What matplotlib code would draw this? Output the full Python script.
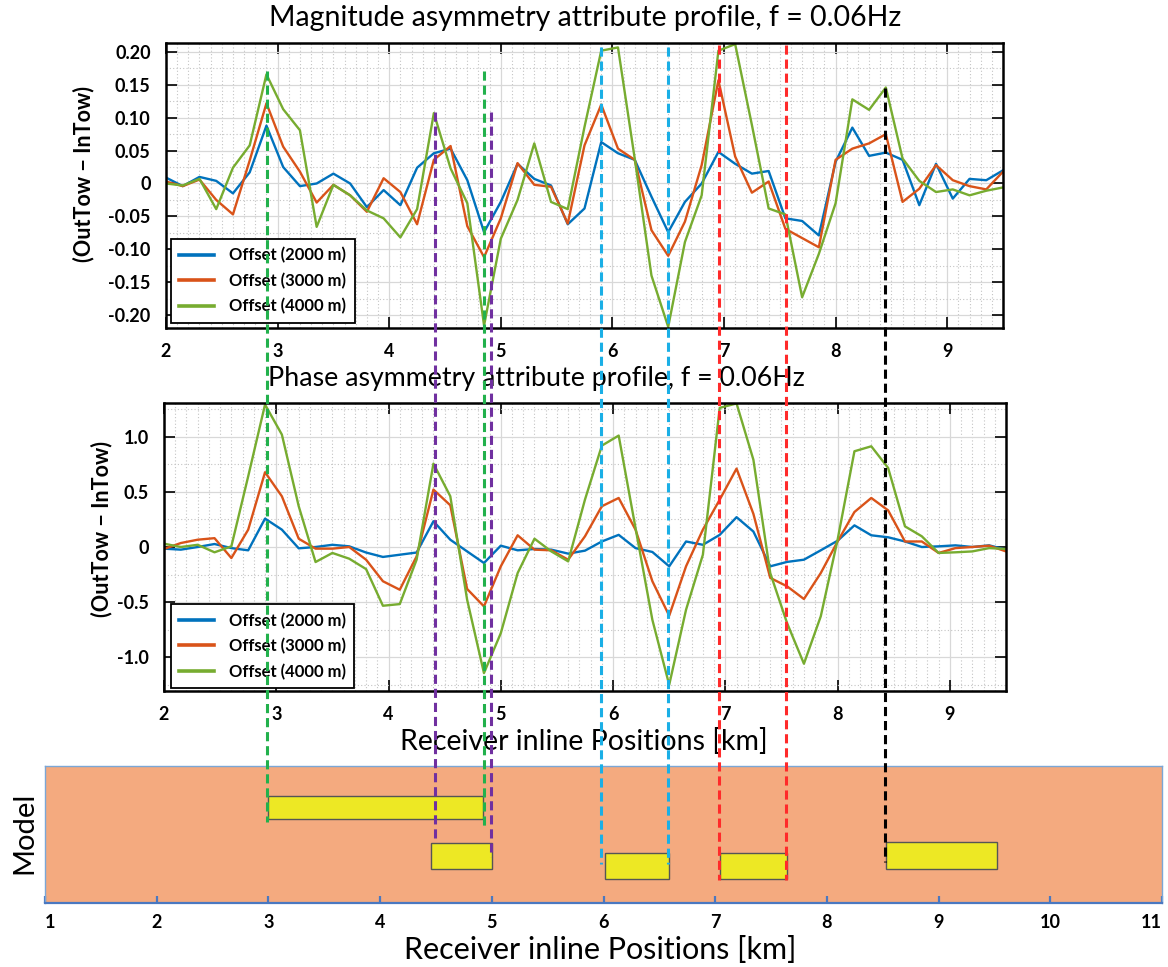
import numpy as np
import matplotlib
matplotlib.use("Agg")
import matplotlib.pyplot as plt
from matplotlib import transforms
from matplotlib.lines import Line2D
from matplotlib.patches import Rectangle
from matplotlib.ticker import MultipleLocator

plt.rcParams["font.family"] = ["Lato", "DejaVu Sans"]

# =========================
# DATA
# =========================
# receiver inline positions (km), one every 150 m
POSITIONS_KM = [2.00, 2.15, 2.30, 2.45, 2.60, 2.75, 2.90, 3.05, 3.20, 3.35,
                3.50, 3.65, 3.80, 3.95, 4.10, 4.25, 4.40, 4.55, 4.70, 4.85,
                5.00, 5.15, 5.30, 5.45, 5.60, 5.75, 5.90, 6.05, 6.20, 6.35,
                6.50, 6.65, 6.80, 6.95, 7.10, 7.25, 7.40, 7.55, 7.70, 7.85,
                8.00, 8.15, 8.30, 8.45, 8.60, 8.75, 8.90, 9.05, 9.20, 9.35,
                9.50]

# magnitude asymmetry (OutTow - InTow)
MAG_2000 = [0.009, -0.004, 0.010, 0.004, -0.015, 0.017, 0.088, 0.025, -0.004, 0.000,
            0.015, 0.000, -0.036, -0.010, -0.033, 0.024, 0.046, 0.053, 0.005, -0.074,
            -0.028, 0.030, 0.007, -0.003, -0.062, -0.038, 0.063, 0.046, 0.036, -0.020,
            -0.074, -0.028, 0.000, 0.048, 0.030, 0.015, 0.019, -0.053, -0.057, -0.079,
            0.033, 0.085, 0.042, 0.047, 0.036, -0.033, 0.030, -0.023, 0.007, 0.005,
            0.020]
MAG_3000 = [0.003, -0.004, 0.006, -0.025, -0.047, 0.035, 0.122, 0.056, 0.018, -0.029,
            -0.002, -0.018, -0.043, 0.008, -0.013, -0.062, 0.036, 0.057, -0.065, -0.112,
            -0.053, 0.031, -0.002, -0.005, -0.061, 0.058, 0.120, 0.053, 0.036, -0.071,
            -0.110, -0.058, 0.028, 0.157, 0.041, -0.014, 0.003, -0.069, -0.083, -0.097,
            0.036, 0.053, 0.061, 0.075, -0.028, -0.008, 0.028, 0.005, -0.004, -0.009,
            0.018]
MAG_4000 = [0.000, -0.003, 0.007, -0.039, 0.024, 0.058, 0.166, 0.113, 0.081, -0.066,
            -0.002, -0.018, -0.041, -0.053, -0.082, -0.039, 0.107, 0.023, -0.030, -0.216,
            -0.084, -0.025, 0.061, -0.028, -0.039, 0.086, 0.202, 0.207, 0.038, -0.140,
            -0.218, -0.089, -0.018, 0.202, 0.212, 0.089, -0.038, -0.047, -0.173, -0.107,
            -0.030, 0.128, 0.112, 0.146, 0.038, 0.004, -0.013, -0.009, -0.018, -0.011,
            -0.006]

# phase asymmetry (OutTow - InTow)
PHASE_2000 = [-0.015, -0.024, 0.000, 0.027, -0.010, -0.030, 0.257, 0.157, -0.012, 0.000,
              0.020, 0.006, -0.050, -0.090, -0.070, -0.050, 0.233, 0.066, -0.040, -0.145,
              0.012, -0.030, -0.018, -0.024, -0.060, -0.033, 0.050, 0.110, -0.010, -0.045,
              -0.175, 0.050, 0.020, 0.110, 0.270, 0.140, -0.175, -0.135, -0.115, -0.030,
              0.057, 0.196, 0.106, 0.088, 0.050, 0.000, 0.006, 0.015, 0.000, 0.015,
              -0.024]
PHASE_3000 = [-0.018, 0.036, 0.066, 0.080, -0.100, 0.157, 0.677, 0.459, 0.075, -0.015,
              -0.015, 0.000, -0.115, -0.310, -0.387, -0.085, 0.520, 0.378, -0.380, -0.538,
              -0.175, 0.106, -0.024, -0.030, -0.115, 0.097, 0.369, 0.444, 0.157, -0.310,
              -0.622, -0.175, 0.157, 0.429, 0.710, 0.300, -0.280, -0.356, -0.471, -0.236,
              0.050, 0.317, 0.444, 0.332, 0.050, 0.050, -0.054, -0.010, 0.000, 0.012,
              -0.040]
PHASE_4000 = [0.030, 0.000, 0.020, -0.048, 0.006, 0.640, 1.290, 1.018, 0.369, -0.136,
              -0.054, -0.106, -0.200, -0.532, -0.517, -0.115, 0.755, 0.460, -0.477, -1.142,
              -0.780, -0.236, 0.075, -0.040, -0.130, 0.430, 0.918, 1.009, 0.172, -0.659,
              -1.248, -0.568, -0.070, 1.260, 1.300, 0.790, -0.236, -0.689, -1.057, -0.628,
              0.066, 0.867, 0.912, 0.716, 0.187, 0.097, -0.054, -0.048, -0.040, -0.010,
              -0.018]

OFFSET_LABELS = ["Offset (2000 m)", "Offset (3000 m)", "Offset (4000 m)"]
OFFSET_COLORS = ["#0072BD", "#D95319", "#77AC30"]

MAG_YTICKS = [0.20, 0.15, 0.10, 0.05, 0.0, -0.05, -0.10, -0.15, -0.20]
MAG_YTICK_LABELS = ["0.20", "0.15", "0.10", "0.05", "0", "-0.05", "-0.10", "-0.15", "-0.20"]
PHASE_YTICKS = [1.0, 0.5, 0.0, -0.5, -1.0]
PHASE_YTICK_LABELS = ["1.0", "0.5", "0", "-0.5", "-1.0"]
PROFILE_XTICKS = [2, 3, 4, 5, 6, 7, 8, 9]
MODEL_XTICKS = [1, 2, 3, 4, 5, 6, 7, 8, 9, 10, 11]

# resistive bodies in the model (km, relative depth 0 = top of panel)
BODY_LEFT_KM = [3.00, 4.46, 6.01, 7.04, 8.53]
BODY_RIGHT_KM = [4.92, 5.00, 6.59, 7.64, 9.52]
BODY_TOP = [0.221, 0.565, 0.638, 0.638, 0.558]
BODY_BASE = [0.390, 0.755, 0.825, 0.825, 0.755]

# body edges picked on the profiles (km)
EDGE_KM = [2.99, 4.93, 4.49, 4.99, 5.98, 6.58, 7.03, 7.63, 8.52]
EDGE_COLORS = ["#22B14C", "#22B14C", "#7030A0", "#7030A0", "#1AAFE6", "#1AAFE6",
               "#FF2A2A", "#FF2A2A", "black"]

# =========================
# LAYOUT (pixels of a 1168 x 967 canvas)
# =========================
W, H = 1168, 967


def box(x0, y0, x1, y1):
    return [x0 / W, 1 - y1 / H, (x1 - x0) / W, (y1 - y0) / H]


fig = plt.figure(figsize=(W / 100, H / 100), dpi=100)
ax_mag = fig.add_axes(box(166, 43, 1003, 328))
ax_pha = fig.add_axes(box(164, 403, 1006, 691))
ax_mod = fig.add_axes(box(45, 766, 1162, 903))


def style_profile(ax, yticks, ylabels, ylim, yminor, legend_box, ylab_xy):
    ax.set_xlim(2, 9.5)
    ax.set_ylim(*ylim)
    ax.set_xticks(PROFILE_XTICKS)
    ax.set_xticklabels([str(t) for t in PROFILE_XTICKS], fontweight="bold", fontsize=13)
    ax.set_yticks(yticks)
    ax.set_yticklabels(ylabels, fontweight="bold", fontsize=13)
    ax.xaxis.set_minor_locator(MultipleLocator(0.1))
    ax.yaxis.set_minor_locator(MultipleLocator(yminor))
    ax.grid(True, which="major", color="#d8d8d8", lw=0.9, ls="-")
    ax.grid(True, which="minor", color="#c4c4c4", lw=0.8, ls=(0, (1, 2)))
    ax.set_axisbelow(True)
    ax.tick_params(which="major", direction="in", length=8, width=1.2,
                   top=True, right=True, pad=11)
    ax.tick_params(which="minor", length=0)
    for sp in ax.spines.values():
        sp.set_linewidth(1.8)
    ax.set_ylabel("(OutTow \u2212 InTow)", fontweight="bold", fontsize=15.5)
    ax.yaxis.set_label_coords(*ylab_xy)
    leg = ax.legend(loc="lower left", bbox_to_anchor=legend_box,
                    prop={"weight": "bold", "size": 12}, fancybox=False,
                    framealpha=1, edgecolor="black", handlelength=2.1,
                    handletextpad=0.9, labelspacing=0.55, borderpad=0.5,
                    borderaxespad=0)
    leg.get_frame().set_linewidth(1.3)
    for h in leg.get_lines():
        h.set_linewidth(2.6)


for ax, series in [(ax_mag, [MAG_2000, MAG_3000, MAG_4000]),
                   (ax_pha, [PHASE_2000, PHASE_3000, PHASE_4000])]:
    for vals, lab, col in zip(series, OFFSET_LABELS, OFFSET_COLORS):
        ax.plot(POSITIONS_KM, vals, color=col, lw=1.7, label=lab)

style_profile(ax_mag, MAG_YTICKS, MAG_YTICK_LABELS, (-0.2198, 0.2137), 0.025,
              (0.006, 0.0175), (-0.086, 0.54))
style_profile(ax_pha, PHASE_YTICKS, PHASE_YTICK_LABELS, (-1.304, 1.304), 0.25,
              (0.008, 0.01), (-0.061, 0.5625))

fig.text(585 / W, 1 - 18 / H, "Magnitude asymmetry attribute profile, f = 0.06Hz",
         ha="center", va="center", fontsize=20.5)
fig.text(536 / W, 1 - 378 / H, "Phase asymmetry attribute profile, f = 0.06Hz",
         ha="center", va="center", fontsize=19.3)
fig.text(584 / W, 1 - 742 / H, "Receiver inline Positions [km]",
         ha="center", va="center", fontsize=20.5)

# =========================
# MODEL PANEL
# =========================
ax_mod.set_xlim(1, 11)
ax_mod.set_ylim(1, 0)
ax_mod.set_facecolor("#F4AA7F")
for name, sp in ax_mod.spines.items():
    sp.set_color("#7BA7D6")
    sp.set_linewidth(1.0)
ax_mod.spines["bottom"].set_color("#4A78C0")
ax_mod.spines["bottom"].set_linewidth(1.6)
ax_mod.set_yticks([])
ax_mod.set_xticks(MODEL_XTICKS)
ax_mod.set_xticklabels([str(t) for t in MODEL_XTICKS], fontweight="bold", fontsize=13)
ax_mod.tick_params(axis="x", direction="in", length=5, width=1.6, color="#4A78C0", pad=8)
tick_labels = ax_mod.get_xticklabels()
tick_labels[0].set_ha("left")
tick_labels[-1].set_ha("right")
for l, r, t, b in zip(BODY_LEFT_KM, BODY_RIGHT_KM, BODY_TOP, BODY_BASE):
    ax_mod.add_patch(Rectangle((l, t), r - l, b - t, facecolor="#EDE824",
                               edgecolor="#555555", lw=1.0, zorder=3))
fig.text(24 / W, 1 - 833 / H, "Model", rotation=90, ha="center", va="center",
         fontsize=21)
fig.text(600 / W, 1 - 950 / H, "Receiver inline Positions [km]",
         ha="center", va="center", fontsize=22)

# =========================
# EDGE MARKERS (dashed lines across panels)
# =========================
EDGE_SPAN_PX = [(71, 822), (71, 826), (112, 840), (112, 857), (47, 864),
                (47, 864), (45, 880), (45, 880), (88, 862)]
trans = transforms.blended_transform_factory(ax_mod.transData, fig.transFigure)
for xk, col, (y0, y1) in zip(EDGE_KM, EDGE_COLORS, EDGE_SPAN_PX):
    fig.add_artist(Line2D([xk, xk], [1 - y0 / H, 1 - y1 / H], transform=trans,
                          color=col, lw=2.2, ls=(0, (3, 1.6)), zorder=10))

fig.savefig("out.png", dpi=100)
